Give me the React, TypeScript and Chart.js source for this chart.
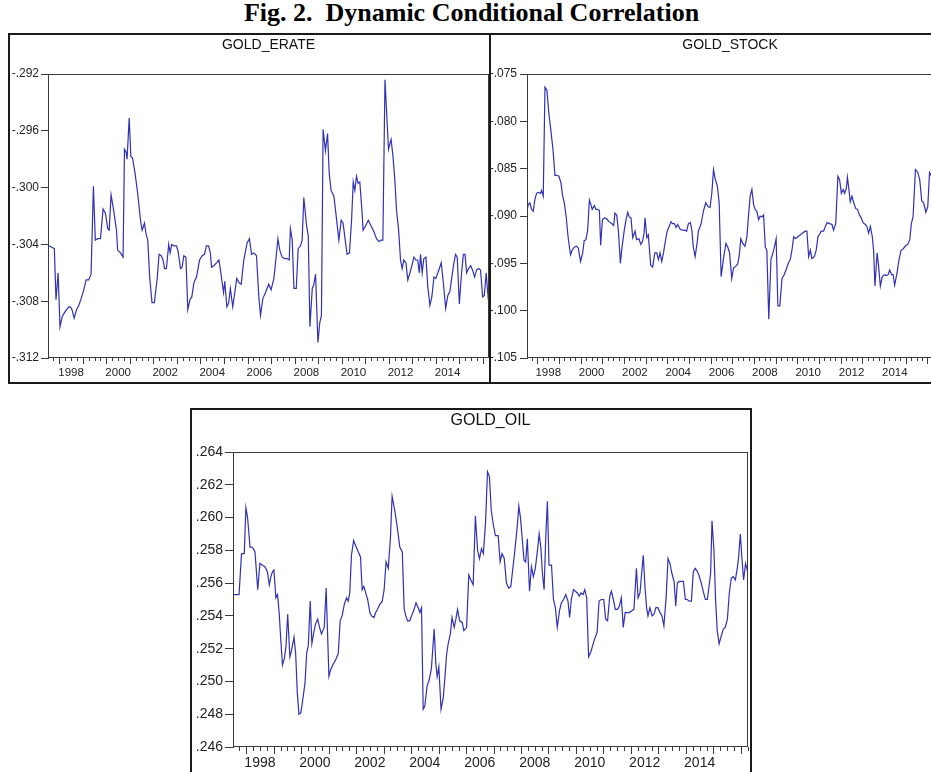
import React, { useEffect, useRef } from 'react';
import { Chart, registerables } from 'chart.js';

Chart.register(...registerables);

// ---------- data ----------
const X_MIN = 1997.52;
const X_MAX = 2016.26;
const YEAR_LABELS = [1998, 2000, 2002, 2004, 2006, 2008, 2010, 2012, 2014];

const ERATE_TICKS = [-0.312, -0.308, -0.304, -0.3, -0.296, -0.292];
const STOCK_TICKS = [-0.105, -0.1, -0.095, -0.09, -0.085, -0.08, -0.075];
const OIL_TICKS = [0.246, 0.248, 0.25, 0.252, 0.254, 0.256, 0.258, 0.26, 0.262, 0.264];

const ERATE_T = [
  1997.55, 1997.69, 1997.79, 1997.86, 1997.95, 1998.03, 1998.12, 1998.26, 1998.40, 1998.47,
  1998.54, 1998.63, 1998.73, 1998.83, 1998.93, 1999.04, 1999.14, 1999.25, 1999.35, 1999.45,
  1999.53, 1999.63, 1999.75, 1999.86, 1999.96, 2000.06, 2000.12, 2000.20, 2000.31, 2000.43,
  2000.48, 2000.60, 2000.71, 2000.77, 2000.84, 2000.88, 2000.97, 2001.04, 2001.11, 2001.22,
  2001.33, 2001.45, 2001.52, 2001.62, 2001.69, 2001.76, 2001.84, 2001.94, 2002.04, 2002.16,
  2002.24, 2002.33, 2002.41, 2002.47, 2002.55, 2002.65, 2002.71, 2002.78, 2002.87, 2002.98,
  2003.05, 2003.15, 2003.22, 2003.29, 2003.38, 2003.46, 2003.55, 2003.63, 2003.72, 2003.83,
  2003.96, 2004.07, 2004.17, 2004.25, 2004.34, 2004.42, 2004.47, 2004.57, 2004.68, 2004.78,
  2004.85, 2004.92, 2004.98, 2005.03, 2005.12, 2005.20, 2005.27, 2005.37, 2005.44, 2005.54,
  2005.64, 2005.73, 2005.84, 2005.98, 2006.08, 2006.17, 2006.27, 2006.38, 2006.48, 2006.55,
  2006.65, 2006.76, 2006.90, 2007.00, 2007.12, 2007.20, 2007.29, 2007.37, 2007.47, 2007.58,
  2007.68, 2007.77, 2007.82, 2007.90, 2007.97, 2008.07, 2008.15, 2008.25, 2008.32, 2008.39,
  2008.51, 2008.58, 2008.65, 2008.75, 2008.82, 2008.89, 2008.99, 2009.07, 2009.14, 2009.21,
  2009.31, 2009.40, 2009.47, 2009.55, 2009.67, 2009.78, 2009.88, 2009.98, 2010.06, 2010.15,
  2010.23, 2010.33, 2010.42, 2010.49, 2010.56, 2010.63, 2010.70, 2010.77, 2010.86, 2010.91,
  2011.01, 2011.13, 2011.25, 2011.37, 2011.48, 2011.58, 2011.68, 2011.75, 2011.84, 2011.94,
  2011.99, 2012.05, 2012.10, 2012.18, 2012.26, 2012.33, 2012.42, 2012.50, 2012.57, 2012.64,
  2012.73, 2012.81, 2012.90, 2012.98, 2013.07, 2013.15, 2013.23, 2013.30, 2013.35, 2013.42,
  2013.49, 2013.58, 2013.66, 2013.75, 2013.83, 2013.92, 2014.00, 2014.09, 2014.23, 2014.32,
  2014.42, 2014.51, 2014.60, 2014.68, 2014.77, 2014.84, 2014.91, 2015.00, 2015.08, 2015.17,
  2015.24, 2015.31, 2015.39, 2015.48, 2015.56, 2015.65, 2015.73, 2015.82, 2015.90, 2015.99,
  2016.06, 2016.14, 2016.23, 2016.26,
];
const ERATE_V = [
  -0.3041, -0.3042, -0.3043, -0.3079, -0.3060, -0.3098, -0.3091, -0.3087, -0.3084, -0.3084,
  -0.3086, -0.3092, -0.3086, -0.3083, -0.3078, -0.3072, -0.3065, -0.3065, -0.3061, -0.2999,
  -0.3037, -0.3036, -0.3036, -0.3015, -0.3018, -0.3029, -0.3030, -0.3005, -0.3016, -0.3030,
  -0.3044, -0.3046, -0.3049, -0.2973, -0.2975, -0.2980, -0.2951, -0.2978, -0.2979, -0.2990,
  -0.3004, -0.3023, -0.3030, -0.3025, -0.3033, -0.3037, -0.3063, -0.3081, -0.3081, -0.3064,
  -0.3047, -0.3048, -0.3051, -0.3057, -0.3057, -0.3040, -0.3046, -0.3040, -0.3041, -0.3041,
  -0.3045, -0.3057, -0.3056, -0.3048, -0.3049, -0.3086, -0.3079, -0.3077, -0.3067, -0.3063,
  -0.3051, -0.3048, -0.3047, -0.3041, -0.3041, -0.3046, -0.3056, -0.3055, -0.3053, -0.3051,
  -0.3058, -0.3067, -0.3074, -0.3066, -0.3084, -0.3081, -0.3071, -0.3084, -0.3076, -0.3064,
  -0.3067, -0.3068, -0.3051, -0.3039, -0.3036, -0.3047, -0.3046, -0.3048, -0.3077, -0.3090,
  -0.3078, -0.3074, -0.3068, -0.3072, -0.3064, -0.3051, -0.3036, -0.3044, -0.3049, -0.3050,
  -0.3050, -0.3051, -0.3029, -0.3037, -0.3071, -0.3071, -0.3043, -0.3041, -0.3037, -0.3007,
  -0.3027, -0.3034, -0.3098, -0.3071, -0.3068, -0.3061, -0.3109, -0.3095, -0.3090, -0.2959,
  -0.2974, -0.2962, -0.2990, -0.3002, -0.3006, -0.3022, -0.3037, -0.3023, -0.3025, -0.3037,
  -0.3047, -0.3046, -0.3023, -0.2996, -0.3002, -0.2992, -0.2997, -0.2996, -0.3016, -0.3030,
  -0.3027, -0.3023, -0.3027, -0.3031, -0.3036, -0.3038, -0.3037, -0.3037, -0.2924, -0.2957,
  -0.2973, -0.2969, -0.2966, -0.2978, -0.2995, -0.3016, -0.3030, -0.3051, -0.3057, -0.3051,
  -0.3053, -0.3065, -0.3060, -0.3055, -0.3049, -0.3051, -0.3051, -0.3060, -0.3047, -0.3060,
  -0.3050, -0.3049, -0.3070, -0.3083, -0.3077, -0.3063, -0.3064, -0.3060, -0.3053, -0.3067,
  -0.3085, -0.3076, -0.3073, -0.3063, -0.3053, -0.3047, -0.3049, -0.3082, -0.3063, -0.3047,
  -0.3047, -0.3060, -0.3057, -0.3055, -0.3058, -0.3063, -0.3058, -0.3057, -0.3058, -0.3077,
  -0.3076, -0.3060, -0.3079, -0.3074,
];

const STOCK_T = [
  1997.53, 1997.58, 1997.65, 1997.73, 1997.81, 1997.88, 1997.96, 1998.04, 1998.15, 1998.19,
  1998.27, 1998.35, 1998.44, 1998.53, 1998.62, 1998.72, 1998.81, 1998.89, 1998.99, 1999.09,
  1999.16, 1999.24, 1999.33, 1999.42, 1999.53, 1999.61, 1999.70, 1999.81, 1999.89, 1999.99,
  2000.09, 2000.16, 2000.24, 2000.32, 2000.40, 2000.47, 2000.53, 2000.63, 2000.70, 2000.78,
  2000.86, 2000.92, 2001.00, 2001.09, 2001.20, 2001.30, 2001.43, 2001.52, 2001.58, 2001.66,
  2001.74, 2001.83, 2001.89, 2002.01, 2002.09, 2002.17, 2002.24, 2002.32, 2002.40, 2002.51,
  2002.58, 2002.69, 2002.77, 2002.85, 2002.92, 2002.97, 2003.05, 2003.12, 2003.23, 2003.32,
  2003.42, 2003.51, 2003.59, 2003.66, 2003.74, 2003.82, 2003.89, 2003.99, 2004.08, 2004.17,
  2004.23, 2004.32, 2004.40, 2004.48, 2004.59, 2004.69, 2004.79, 2004.89, 2004.97, 2005.06,
  2005.13, 2005.19, 2005.28, 2005.37, 2005.43, 2005.56, 2005.66, 2005.77, 2005.87, 2005.97,
  2006.05, 2006.13, 2006.20, 2006.31, 2006.39, 2006.48, 2006.59, 2006.70, 2006.79, 2006.87,
  2006.97, 2007.05, 2007.16, 2007.24, 2007.31, 2007.39, 2007.48, 2007.58, 2007.67, 2007.74,
  2007.82, 2007.90, 2007.98, 2008.05, 2008.13, 2008.21, 2008.28, 2008.36, 2008.44, 2008.52,
  2008.59, 2008.68, 2008.78, 2008.87, 2008.93, 2009.02, 2009.10, 2009.19, 2009.29, 2009.39,
  2009.49, 2009.58, 2009.67, 2009.75, 2009.83, 2009.92, 2010.01, 2010.13, 2010.24, 2010.36,
  2010.44, 2010.52, 2010.60, 2010.67, 2010.78, 2010.87, 2010.95, 2011.03, 2011.10, 2011.21,
  2011.29, 2011.37, 2011.49, 2011.60, 2011.67, 2011.77, 2011.87, 2011.95, 2012.03, 2012.11,
  2012.18, 2012.26, 2012.31, 2012.38, 2012.44, 2012.52, 2012.60, 2012.69, 2012.78, 2012.86,
  2012.95, 2013.03, 2013.14, 2013.21, 2013.29, 2013.37, 2013.46, 2013.52, 2013.58, 2013.68,
  2013.75, 2013.83, 2013.92, 2014.02, 2014.11, 2014.19, 2014.26, 2014.35, 2014.42, 2014.49,
  2014.60, 2014.69, 2014.79, 2014.88, 2014.97, 2015.09, 2015.19, 2015.26, 2015.34, 2015.45,
  2015.56, 2015.65, 2015.74, 2015.83, 2015.93, 2016.02, 2016.10, 2016.19, 2016.26,
];
const STOCK_V = [
  -0.0893, -0.0888, -0.0886, -0.0893, -0.0895, -0.0883, -0.0876, -0.0875, -0.0876, -0.0873,
  -0.0879, -0.0764, -0.0767, -0.0792, -0.0809, -0.0830, -0.0857, -0.0857, -0.0858, -0.0865,
  -0.0878, -0.0886, -0.0901, -0.0923, -0.0941, -0.0936, -0.0933, -0.0932, -0.0934, -0.0948,
  -0.0939, -0.0926, -0.0925, -0.0915, -0.0883, -0.0888, -0.0893, -0.0889, -0.0893, -0.0893,
  -0.0894, -0.0931, -0.0904, -0.0902, -0.0903, -0.0906, -0.0908, -0.0910, -0.0897, -0.0899,
  -0.0916, -0.0950, -0.0936, -0.0915, -0.0904, -0.0896, -0.0901, -0.0902, -0.0923, -0.0916,
  -0.0925, -0.0924, -0.0930, -0.0927, -0.0919, -0.0902, -0.0923, -0.0920, -0.0952, -0.0954,
  -0.0939, -0.0939, -0.0946, -0.0939, -0.0948, -0.0939, -0.0929, -0.0916, -0.0911, -0.0906,
  -0.0908, -0.0908, -0.0912, -0.0909, -0.0914, -0.0915, -0.0915, -0.0916, -0.0908, -0.0907,
  -0.0915, -0.0932, -0.0943, -0.0929, -0.0916, -0.0908, -0.0895, -0.0886, -0.0890, -0.0891,
  -0.0876, -0.0851, -0.0860, -0.0869, -0.0886, -0.0964, -0.0945, -0.0929, -0.0933, -0.0939,
  -0.0966, -0.0955, -0.0953, -0.0951, -0.0943, -0.0924, -0.0929, -0.0932, -0.0922, -0.0901,
  -0.0879, -0.0872, -0.0888, -0.0893, -0.0895, -0.0904, -0.0900, -0.0901, -0.0899, -0.0933,
  -0.0936, -0.1009, -0.0946, -0.0939, -0.0934, -0.0924, -0.0995, -0.0995, -0.0966, -0.0962,
  -0.0956, -0.0950, -0.0946, -0.0936, -0.0922, -0.0924, -0.0922, -0.0920, -0.0918, -0.0916,
  -0.0916, -0.0943, -0.0936, -0.0945, -0.0943, -0.0936, -0.0922, -0.0919, -0.0916, -0.0916,
  -0.0911, -0.0907, -0.0908, -0.0909, -0.0915, -0.0908, -0.0858, -0.0862, -0.0876, -0.0872,
  -0.0876, -0.0871, -0.0859, -0.0872, -0.0885, -0.0879, -0.0886, -0.0892, -0.0893, -0.0899,
  -0.0902, -0.0907, -0.0909, -0.0911, -0.0918, -0.0911, -0.0922, -0.0937, -0.0974, -0.0939,
  -0.0953, -0.0974, -0.0964, -0.0962, -0.0963, -0.0962, -0.0957, -0.0962, -0.0962, -0.0973,
  -0.0960, -0.0946, -0.0936, -0.0935, -0.0932, -0.0930, -0.0925, -0.0908, -0.0901, -0.0851,
  -0.0854, -0.0862, -0.0884, -0.0886, -0.0896, -0.0890, -0.0854, -0.0858, -0.0856,
];

const OIL_T = [
  1997.55, 1997.65, 1997.74, 1997.83, 1997.89, 1997.93, 1997.99, 1998.05, 1998.14, 1998.20,
  1998.26, 1998.32, 1998.42, 1998.50, 1998.58, 1998.68, 1998.77, 1998.84, 1998.90, 1998.96,
  1999.01, 1999.08, 1999.14, 1999.20, 1999.26, 1999.32, 1999.39, 1999.45, 1999.51, 1999.59,
  1999.65, 1999.74, 1999.80, 1999.86, 1999.92, 1999.99, 2000.06, 2000.14, 2000.20, 2000.26,
  2000.33, 2000.39, 2000.45, 2000.52, 2000.60, 2000.67, 2000.74, 2000.84, 2000.91, 2001.01,
  2001.07, 2001.15, 2001.25, 2001.35, 2001.42, 2001.49, 2001.57, 2001.65, 2001.71, 2001.77,
  2001.83, 2001.91, 2001.98, 2002.08, 2002.16, 2002.22, 2002.28, 2002.35, 2002.42, 2002.50,
  2002.56, 2002.65, 2002.71, 2002.78, 2002.86, 2002.95, 2003.02, 2003.09, 2003.17, 2003.25,
  2003.31, 2003.41, 2003.49, 2003.59, 2003.68, 2003.75, 2003.81, 2003.87, 2003.95, 2004.02,
  2004.11, 2004.18, 2004.26, 2004.32, 2004.38, 2004.44, 2004.50, 2004.58, 2004.66, 2004.74,
  2004.84, 2004.90, 2004.95, 2005.01, 2005.09, 2005.17, 2005.23, 2005.29, 2005.35, 2005.43,
  2005.49, 2005.57, 2005.63, 2005.69, 2005.77, 2005.86, 2005.92, 2006.02, 2006.10, 2006.17,
  2006.26, 2006.34, 2006.42, 2006.49, 2006.56, 2006.63, 2006.71, 2006.78, 2006.85, 2006.92,
  2007.00, 2007.07, 2007.17, 2007.24, 2007.31, 2007.39, 2007.47, 2007.55, 2007.63, 2007.71,
  2007.77, 2007.86, 2007.92, 2007.98, 2008.05, 2008.11, 2008.17, 2008.23, 2008.31, 2008.38,
  2008.45, 2008.52, 2008.60, 2008.66, 2008.72, 2008.78, 2008.84, 2008.90, 2008.96, 2009.02,
  2009.11, 2009.18, 2009.25, 2009.32, 2009.40, 2009.47, 2009.55, 2009.63, 2009.71, 2009.77,
  2009.83, 2009.91, 2009.98, 2010.05, 2010.12, 2010.18, 2010.26, 2010.32, 2010.39, 2010.46,
  2010.54, 2010.61, 2010.68, 2010.77, 2010.84, 2010.92, 2011.01, 2011.08, 2011.15, 2011.23,
  2011.29, 2011.36, 2011.43, 2011.51, 2011.58, 2011.65, 2011.72, 2011.79, 2011.86, 2011.93,
  2012.02, 2012.11, 2012.20, 2012.26, 2012.33, 2012.39, 2012.45, 2012.51, 2012.57, 2012.62,
  2012.69, 2012.77, 2012.84, 2012.91, 2012.98, 2013.06, 2013.13, 2013.20, 2013.28, 2013.35,
  2013.42, 2013.49, 2013.57, 2013.63, 2013.69, 2013.76, 2013.83, 2013.91, 2013.98, 2014.05,
  2014.12, 2014.20, 2014.27, 2014.34, 2014.42, 2014.49, 2014.56, 2014.63, 2014.71, 2014.78,
  2014.85, 2014.90, 2014.95, 2015.02, 2015.08, 2015.14, 2015.21, 2015.29, 2015.36, 2015.43,
  2015.51, 2015.58, 2015.65, 2015.72, 2015.80, 2015.87, 2015.92, 2015.98, 2016.04, 2016.10,
  2016.17, 2016.26,
];
const OIL_V = [
  0.2553, 0.2553, 0.2553, 0.2578, 0.2578, 0.2578, 0.2606, 0.2600, 0.2582, 0.2582,
  0.2581, 0.2579, 0.2556, 0.2572, 0.2571, 0.2570, 0.2567, 0.2559, 0.2564, 0.2567,
  0.2568, 0.2551, 0.2553, 0.2542, 0.2525, 0.2510, 0.2514, 0.2522, 0.2541, 0.2515,
  0.2519, 0.2527, 0.2517, 0.2493, 0.2480, 0.2481, 0.2489, 0.2499, 0.2517, 0.2522,
  0.2549, 0.2523, 0.2529, 0.2535, 0.2538, 0.2533, 0.2529, 0.2533, 0.2557, 0.2503,
  0.2507, 0.2510, 0.2513, 0.2517, 0.2537, 0.2540, 0.2547, 0.2551, 0.2549, 0.2554,
  0.2577, 0.2586, 0.2583, 0.2579, 0.2576, 0.2556, 0.2558, 0.2554, 0.2550, 0.2542,
  0.2540, 0.2539, 0.2542, 0.2544, 0.2547, 0.2549, 0.2556, 0.2573, 0.2569, 0.2588,
  0.2613, 0.2604, 0.2595, 0.2582, 0.2579, 0.2544, 0.2540, 0.2537, 0.2537, 0.2540,
  0.2544, 0.2548, 0.2545, 0.2542, 0.2545, 0.2483, 0.2485, 0.2497, 0.2501, 0.2508,
  0.2532, 0.2511, 0.2503, 0.2509, 0.2483, 0.2490, 0.2502, 0.2516, 0.2523, 0.2529,
  0.2539, 0.2533, 0.2538, 0.2544, 0.2537, 0.2536, 0.2531, 0.2533, 0.2565, 0.2562,
  0.2559, 0.2601, 0.2580, 0.2575, 0.2581, 0.2578, 0.2597, 0.2628, 0.2625, 0.2604,
  0.2595, 0.2589, 0.2589, 0.2573, 0.2578, 0.2575, 0.2560, 0.2557, 0.2558, 0.2570,
  0.2579, 0.2594, 0.2607, 0.2600, 0.2586, 0.2574, 0.2573, 0.2587, 0.2555, 0.2570,
  0.2564, 0.2569, 0.2580, 0.2590, 0.2582, 0.2566, 0.2556, 0.2588, 0.2610, 0.2571,
  0.2571, 0.2550, 0.2545, 0.2533, 0.2543, 0.2548, 0.2550, 0.2553, 0.2549, 0.2539,
  0.2550, 0.2556, 0.2555, 0.2554, 0.2552, 0.2554, 0.2553, 0.2556, 0.2551, 0.2515,
  0.2518, 0.2522, 0.2526, 0.2530, 0.2549, 0.2550, 0.2550, 0.2538, 0.2537, 0.2552,
  0.2555, 0.2550, 0.2544, 0.2544, 0.2546, 0.2551, 0.2533, 0.2542, 0.2542, 0.2542,
  0.2543, 0.2544, 0.2569, 0.2551, 0.2554, 0.2566, 0.2577, 0.2558, 0.2545, 0.2540,
  0.2545, 0.2540, 0.2541, 0.2545, 0.2545, 0.2542, 0.2540, 0.2534, 0.2551, 0.2575,
  0.2572, 0.2566, 0.2561, 0.2546, 0.2560, 0.2561, 0.2561, 0.2561, 0.2550, 0.2550,
  0.2549, 0.2549, 0.2567, 0.2569, 0.2567, 0.2564, 0.2560, 0.2555, 0.2550, 0.2550,
  0.2559, 0.2566, 0.2598, 0.2580, 0.2550, 0.2531, 0.2523, 0.2528, 0.2532, 0.2533,
  0.2538, 0.2554, 0.2563, 0.2564, 0.2562, 0.2569, 0.2576, 0.2590, 0.2575, 0.2562,
  0.2572, 0.2566,
];

// ---------- styling ----------
const SANS = '"Liberation Sans", Arial, Helvetica, sans-serif';
const LINE_COLOR = '#3131b4';
const AXIS_COLOR = '#3a3a3a';
const TEXT_COLOR = '#222222';

const fmtTick = (v: number) => {
  const s = Math.abs(v).toFixed(3).replace(/^0/, '');
  return (v < 0 ? '-' : '') + s;
};

const decoPlugin = {
  id: 'deco',
  afterDraw(chart: any, _args: any, opts: any) {
    const { ctx, chartArea: ca } = chart;
    const x = chart.scales.x;
    ctx.save();
    ctx.strokeStyle = AXIS_COLOR;
    ctx.lineWidth = 1;
    ctx.strokeRect(Math.round(ca.left) + 0.5, Math.round(ca.top) + 0.5,
      Math.round(ca.right - ca.left) - 1, Math.round(ca.bottom - ca.top) - 1);
    ctx.beginPath();
    for (let q = Math.ceil(x.min * 4); q <= Math.floor(x.max * 4); q++) {
      const px = Math.round(x.getPixelForValue(q / 4)) + 0.5;
      const len = q % 4 === 0 ? opts.longTick : opts.shortTick;
      ctx.moveTo(px, Math.round(ca.bottom));
      ctx.lineTo(px, Math.round(ca.bottom) + len);
    }
    ctx.stroke();
    ctx.fillStyle = '#111';
    ctx.font = `${opts.titleSize}px ${SANS}`;
    ctx.textAlign = 'center';
    ctx.textBaseline = 'middle';
    ctx.fillText(opts.title, (ca.left + ca.right) / 2, opts.titleY);
    ctx.strokeStyle = '#1a1a1a';
    ctx.lineWidth = 2;
    ctx.strokeRect(1, 1, chart.width - 2, chart.height - 2);
    ctx.restore();
  },
};

type Spec = {
  title: string; t: number[]; v: number[]; ticks: number[];
  left: number; top: number; w: number; h: number;
  padT: number; padR: number; xH: number; yW: number;
  yTick: number; yPad: number; yFont: number; xFont: number; xPad: number;
  titleSize: number; titleY: number; longTick: number; shortTick: number;
};

function Panel({ s }: { s: Spec }) {
  const ref = useRef<HTMLCanvasElement>(null);
  useEffect(() => {
    const chart = new Chart(ref.current as HTMLCanvasElement, {
      type: 'line',
      data: {
        datasets: [{
          data: s.t.map((t, i) => ({ x: t, y: s.v[i] })),
          borderColor: LINE_COLOR,
          borderWidth: 1.2,
          pointRadius: 0,
          tension: 0,
          fill: false,
        }],
      },
      options: {
        animation: false,
        responsive: false,
        devicePixelRatio: 1,
        layout: { padding: { left: 0, right: s.padR, top: s.padT, bottom: 0 } },
        plugins: {
          legend: { display: false },
          tooltip: { enabled: false },
          title: { display: false },
          deco: {
            title: s.title, titleSize: s.titleSize, titleY: s.titleY,
            longTick: s.longTick, shortTick: s.shortTick,
          },
        } as any,
        scales: {
          x: {
            type: 'linear',
            min: X_MIN,
            max: X_MAX,
            grid: { display: false, drawTicks: false },
            border: { display: false },
            afterBuildTicks: (sc: any) => { sc.ticks = YEAR_LABELS.map((y) => ({ value: y + 0.5 })); },
            afterFit: (sc: any) => { sc.height = s.xH; },
            ticks: {
              autoSkip: false, maxRotation: 0, minRotation: 0,
              padding: s.xPad, color: TEXT_COLOR,
              font: { family: SANS, size: s.xFont },
              callback: (val: any) => String(Math.floor(Number(val))),
            },
          },
          y: {
            type: 'linear',
            min: s.ticks[0],
            max: s.ticks[s.ticks.length - 1],
            afterBuildTicks: (sc: any) => { sc.ticks = s.ticks.map((v) => ({ value: v })); },
            afterFit: (sc: any) => { sc.width = s.yW; },
            grid: { drawOnChartArea: false, drawTicks: true, tickLength: s.yTick, color: AXIS_COLOR, tickColor: AXIS_COLOR },
            border: { display: true, color: AXIS_COLOR },
            ticks: {
              padding: s.yPad, color: TEXT_COLOR,
              font: { family: SANS, size: s.yFont },
              callback: (val: any) => fmtTick(Number(val)),
            },
          },
        },
      },
      plugins: [decoPlugin as any],
    });
    return () => chart.destroy();
  }, []);
  return (
    <canvas
      ref={ref}
      width={s.w}
      height={s.h}
      style={{ position: 'absolute', left: s.left, top: s.top, width: s.w, height: s.h }}
    />
  );
}

const PANELS: Spec[] = [
  {
    title: 'GOLD_ERATE', t: ERATE_T, v: ERATE_V, ticks: ERATE_TICKS,
    left: 8, top: 33, w: 483, h: 351, padT: 41, padR: 2, xH: 26, yW: 40,
    yTick: 7, yPad: 2, yFont: 12, xFont: 11.5, xPad: 8,
    titleSize: 14, titleY: 12, longTick: 6, shortTick: 3,
  },
  {
    title: 'GOLD_STOCK', t: STOCK_T, v: STOCK_V, ticks: STOCK_TICKS,
    left: 489, top: 33, w: 462, h: 351, padT: 41, padR: 18, xH: 26, yW: 38,
    yTick: 7, yPad: 3, yFont: 12, xFont: 11.5, xPad: 8,
    titleSize: 14, titleY: 12, longTick: 6, shortTick: 3,
  },
  {
    title: 'GOLD_OIL', t: OIL_T, v: OIL_V, ticks: OIL_TICKS,
    left: 190, top: 408, w: 562, h: 372, padT: 44, padR: 4, xH: 33, yW: 43,
    yTick: 8, yPad: 2, yFont: 14, xFont: 14, xPad: 7.5,
    titleSize: 16, titleY: 13, longTick: 7, shortTick: 4,
  },
];

export default function App() {
  return (
    <div style={{ position: 'fixed', left: 0, top: 0, width: 931, height: 772, overflow: 'hidden', background: '#fff' }}>
      <div
        style={{
          position: 'absolute', left: 6, top: 0, width: 931, textAlign: 'center',
          font: 'bold 26px "Liberation Serif", "Times New Roman", serif', lineHeight: '26px',
          whiteSpace: 'pre', color: '#000',
        }}
      >
        {'Fig. 2.  Dynamic Conditional Correlation'}
      </div>
      {PANELS.map((p) => <Panel key={p.title} s={p} />)}
    </div>
  );
}
